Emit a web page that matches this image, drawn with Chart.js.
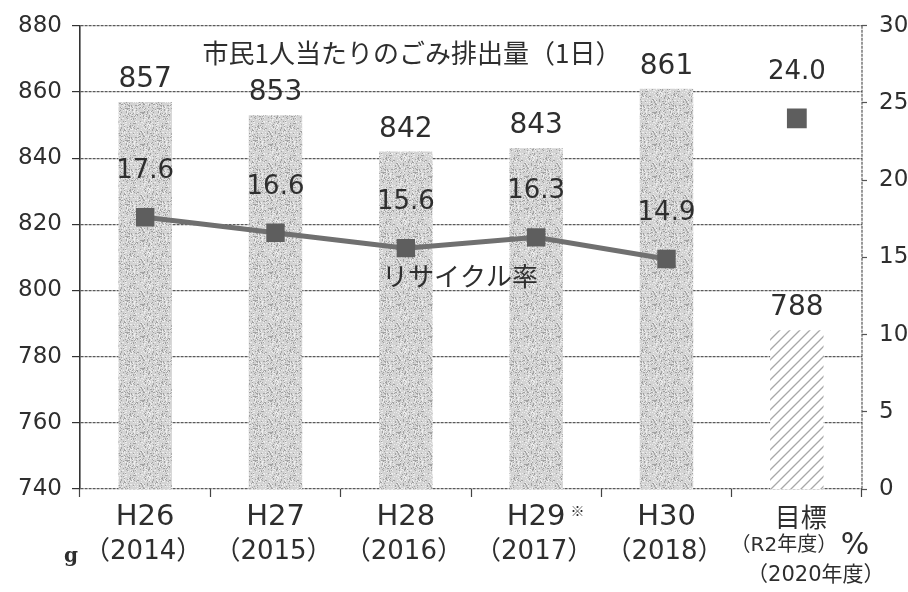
<!DOCTYPE html>
<html>
<head>
<meta charset="utf-8">
<script src="https://cdn.jsdelivr.net/npm/chart.js@4/dist/chart.umd.min.js"></script>
<style>
  html, body { margin: 0; padding: 0; background: #ffffff; }
  canvas { display: block; }
</style>
</head>
<body>
<canvas id="c" width="908" height="592"></canvas>
<script>
// ---- data ----
const categories = [
  ["H26", "（2014）"],
  ["H27", "（2015）"],
  ["H28", "（2016）"],
  ["H29 ※", "（2017）"],
  ["H30", "（2018）"],
  ["目標", "（R2年度）", "（2020年度）"]
];
const wastePerPerson = [857, 853, 842, 843, 861, 788];           // g / person / day
const recyclingRate = [17.6, 16.6, 15.6, 16.3, 14.9, null];      // %
const recyclingTarget = [null, null, null, null, null, 24.0];    // %
const leftAxisRange = [740, 880, 20];
const rightAxisRange = [0, 30, 5];
const titleText = "市民1人当たりのごみ排出量（1日）";
const lineText = "リサイクル率";
const leftUnit = "g";
const rightUnit = "%";

// ---- styles ----
const FONT = "'DejaVu Sans', 'Noto Sans CJK JP', sans-serif";
const CJK = "'Noto Sans CJK JP', 'DejaVu Sans', sans-serif";
const TEXT = "#2e2e2e";

function hash(i, j) {
  let h = Math.imul(i + 1, 374761393) ^ Math.imul(j + 7, 668265263);
  h = Math.imul(h ^ (h >>> 13), 1274126177);
  return ((h ^ (h >>> 16)) >>> 0) % 100;
}
function speckle(ctx) {
  const c = document.createElement('canvas');
  c.width = 32; c.height = 32;
  const g = c.getContext('2d');
  g.fillStyle = '#d3d3d3';
  g.fillRect(0, 0, 32, 32);
  for (let i = 0; i < 32; i++) {
    for (let j = 0; j < 32; j++) {
      const r = hash(i, j);
      if (r < 16) { g.fillStyle = '#a2a2a2'; g.fillRect(i, j, 1, 1); }
      else if (r < 32) { g.fillStyle = '#ededed'; g.fillRect(i, j, 1, 1); }
    }
  }
  return ctx.createPattern(c, 'repeat');
}
function hatch(ctx) {
  const c = document.createElement('canvas');
  c.width = 10; c.height = 10;
  const g = c.getContext('2d');
  g.fillStyle = '#ffffff';
  g.fillRect(0, 0, 10, 10);
  g.strokeStyle = '#a8a8a8';
  g.lineWidth = 1.3;
  g.beginPath();
  g.moveTo(0, 10); g.lineTo(10, 0);
  g.moveTo(-1, 1); g.lineTo(1, -1);
  g.moveTo(9, 11); g.lineTo(11, 9);
  g.stroke();
  return ctx.createPattern(c, 'repeat');
}

const canvas = document.getElementById('c');
const ctx0 = canvas.getContext('2d');
const barPattern = speckle(ctx0);
const hatchPattern = hatch(ctx0);

const decorations = {
  id: 'decorations',
  afterDatasetsDraw(chart) {
    const ctx = chart.ctx;
    const area = chart.chartArea;
    const x = chart.scales.x;
    ctx.save();
    // dotted right frame
    ctx.strokeStyle = '#555';
    ctx.lineWidth = 1.2;
    ctx.setLineDash([3, 1]);
    ctx.beginPath();
    ctx.moveTo(area.right, area.top);
    ctx.lineTo(area.right, area.bottom);
    ctx.stroke();
    ctx.setLineDash([]);

    ctx.fillStyle = TEXT;
    ctx.textAlign = 'center';
    ctx.textBaseline = 'alphabetic';

    // bar value labels
    const barMeta = chart.getDatasetMeta(0);
    ctx.font = "28px " + FONT;
    barMeta.data.forEach((el, i) => {
      ctx.fillText(String(wastePerPerson[i]), el.x, el.y - 15);
    });
    // line value labels
    ctx.font = "26px " + FONT;
    [1, 2].forEach(di => {
      const meta = chart.getDatasetMeta(di);
      const vals = chart.data.datasets[di].data;
      meta.data.forEach((el, i) => {
        if (vals[i] == null) return;
        ctx.fillText(vals[i].toFixed(1), el.x, el.y - 39);
      });
    });

    // annotations
    ctx.textBaseline = 'middle';
    ctx.font = "26px " + CJK;
    ctx.fillText(titleText, area.left + 332, area.top + 27);
    ctx.font = "26px " + CJK;
    ctx.fillText(lineText, area.left + 380, area.top + 250);

    // category labels
    chart.data.labels.forEach((lab, i) => {
      const cx = x.getPixelForValue(i);
      const isTarget = lab.length > 2;
      let main = lab[0];
      let mark = '';
      if (main.indexOf('※') >= 0) { mark = '※'; main = main.replace('※', '').trim(); }
      ctx.font = (isTarget ? "26px " + CJK : "29px " + FONT);
      ctx.fillText(main, cx + (isTarget ? 4 : 0), 517);
      if (mark) {
        const w = ctx.measureText(main).width;
        ctx.font = "14px " + CJK;
        ctx.fillText(mark, cx + w / 2 + 12, 511);
      }
      if (isTarget) {
        ctx.font = "20px " + FONT;
        ctx.fillText(lab[1], cx - 13, 546);
        ctx.font = "21px " + FONT;
        ctx.fillText(lab[2], cx + 19, 576);
      } else {
        ctx.font = "26px " + FONT;
        ctx.fillText(lab[1], cx - 2, 552);
      }
    });

    // units
    ctx.font = "bold 20px 'DejaVu Serif', 'Liberation Serif', serif";
    ctx.fillText(leftUnit, 71, 557);
    ctx.font = "30px " + FONT;
    ctx.fillText(rightUnit, 855, 546);
    ctx.restore();
  }
};

new Chart(canvas, {
  type: 'bar',
  data: {
    labels: categories,
    datasets: [
      {
        type: 'bar',
        label: '市民1人当たりのごみ排出量',
        data: wastePerPerson,
        yAxisID: 'y',
        order: 2,
        backgroundColor: (c) => (c.dataIndex === wastePerPerson.length - 1 ? hatchPattern : barPattern),
        borderWidth: 0,
        barPercentage: 0.41,
        categoryPercentage: 1.0
      },
      {
        type: 'line',
        label: 'リサイクル率',
        data: recyclingRate,
        yAxisID: 'y1',
        order: 0,
        borderColor: '#707070',
        borderWidth: 5,
        pointStyle: 'rect',
        pointRadius: 13,
        pointBackgroundColor: '#5e5e5e',
        pointBorderColor: '#5e5e5e',
        pointBorderWidth: 0,
        spanGaps: false,
        tension: 0
      },
      {
        type: 'line',
        label: 'リサイクル率（目標）',
        data: recyclingTarget,
        yAxisID: 'y1',
        order: 0,
        showLine: false,
        pointStyle: 'rect',
        pointRadius: 14,
        pointBackgroundColor: '#5e5e5e',
        pointBorderColor: '#5e5e5e',
        pointBorderWidth: 0
      }
    ]
  },
  options: {
    responsive: false,
    animation: false,
    devicePixelRatio: 1,
    layout: { padding: { top: 24, left: 0, right: 0, bottom: 0 } },
    plugins: {
      legend: { display: false },
      tooltip: { enabled: false }
    },
    scales: {
      x: {
        offset: true,
        grid: {
          offset: true,
          drawOnChartArea: false,
          drawTicks: true,
          tickLength: 8,
          tickColor: '#444',
          tickWidth: 1.2
        },
        border: { display: false },
        ticks: { display: false },
        afterFit(s) { s.height = 103; }
      },
      y: {
        position: 'left',
        min: leftAxisRange[0],
        max: leftAxisRange[1],
        ticks: {
          stepSize: leftAxisRange[2],
          color: TEXT,
          font: { family: FONT, size: 23 },
          padding: 10
        },
        grid: {
          color: '#5a5a5a',
          lineWidth: 1.2,
          tickLength: 8,
          tickColor: '#333',
          tickWidth: 1.2,
          tickBorderDash: []
        },
        border: { display: true, color: '#333', width: 1.6, dash: [3, 1] },
        afterFit(s) { s.width = 80; }
      },
      y1: {
        position: 'right',
        min: rightAxisRange[0],
        max: rightAxisRange[1],
        ticks: {
          stepSize: rightAxisRange[2],
          color: TEXT,
          font: { family: FONT, size: 23 },
          padding: 12
        },
        grid: {
          drawOnChartArea: false,
          drawTicks: true,
          tickLength: 5,
          tickColor: '#555',
          tickWidth: 1.2
        },
        border: { display: false },
        afterFit(s) { s.width = 46; }
      }
    }
  },
  plugins: [decorations]
});
</script>
</body>
</html>
